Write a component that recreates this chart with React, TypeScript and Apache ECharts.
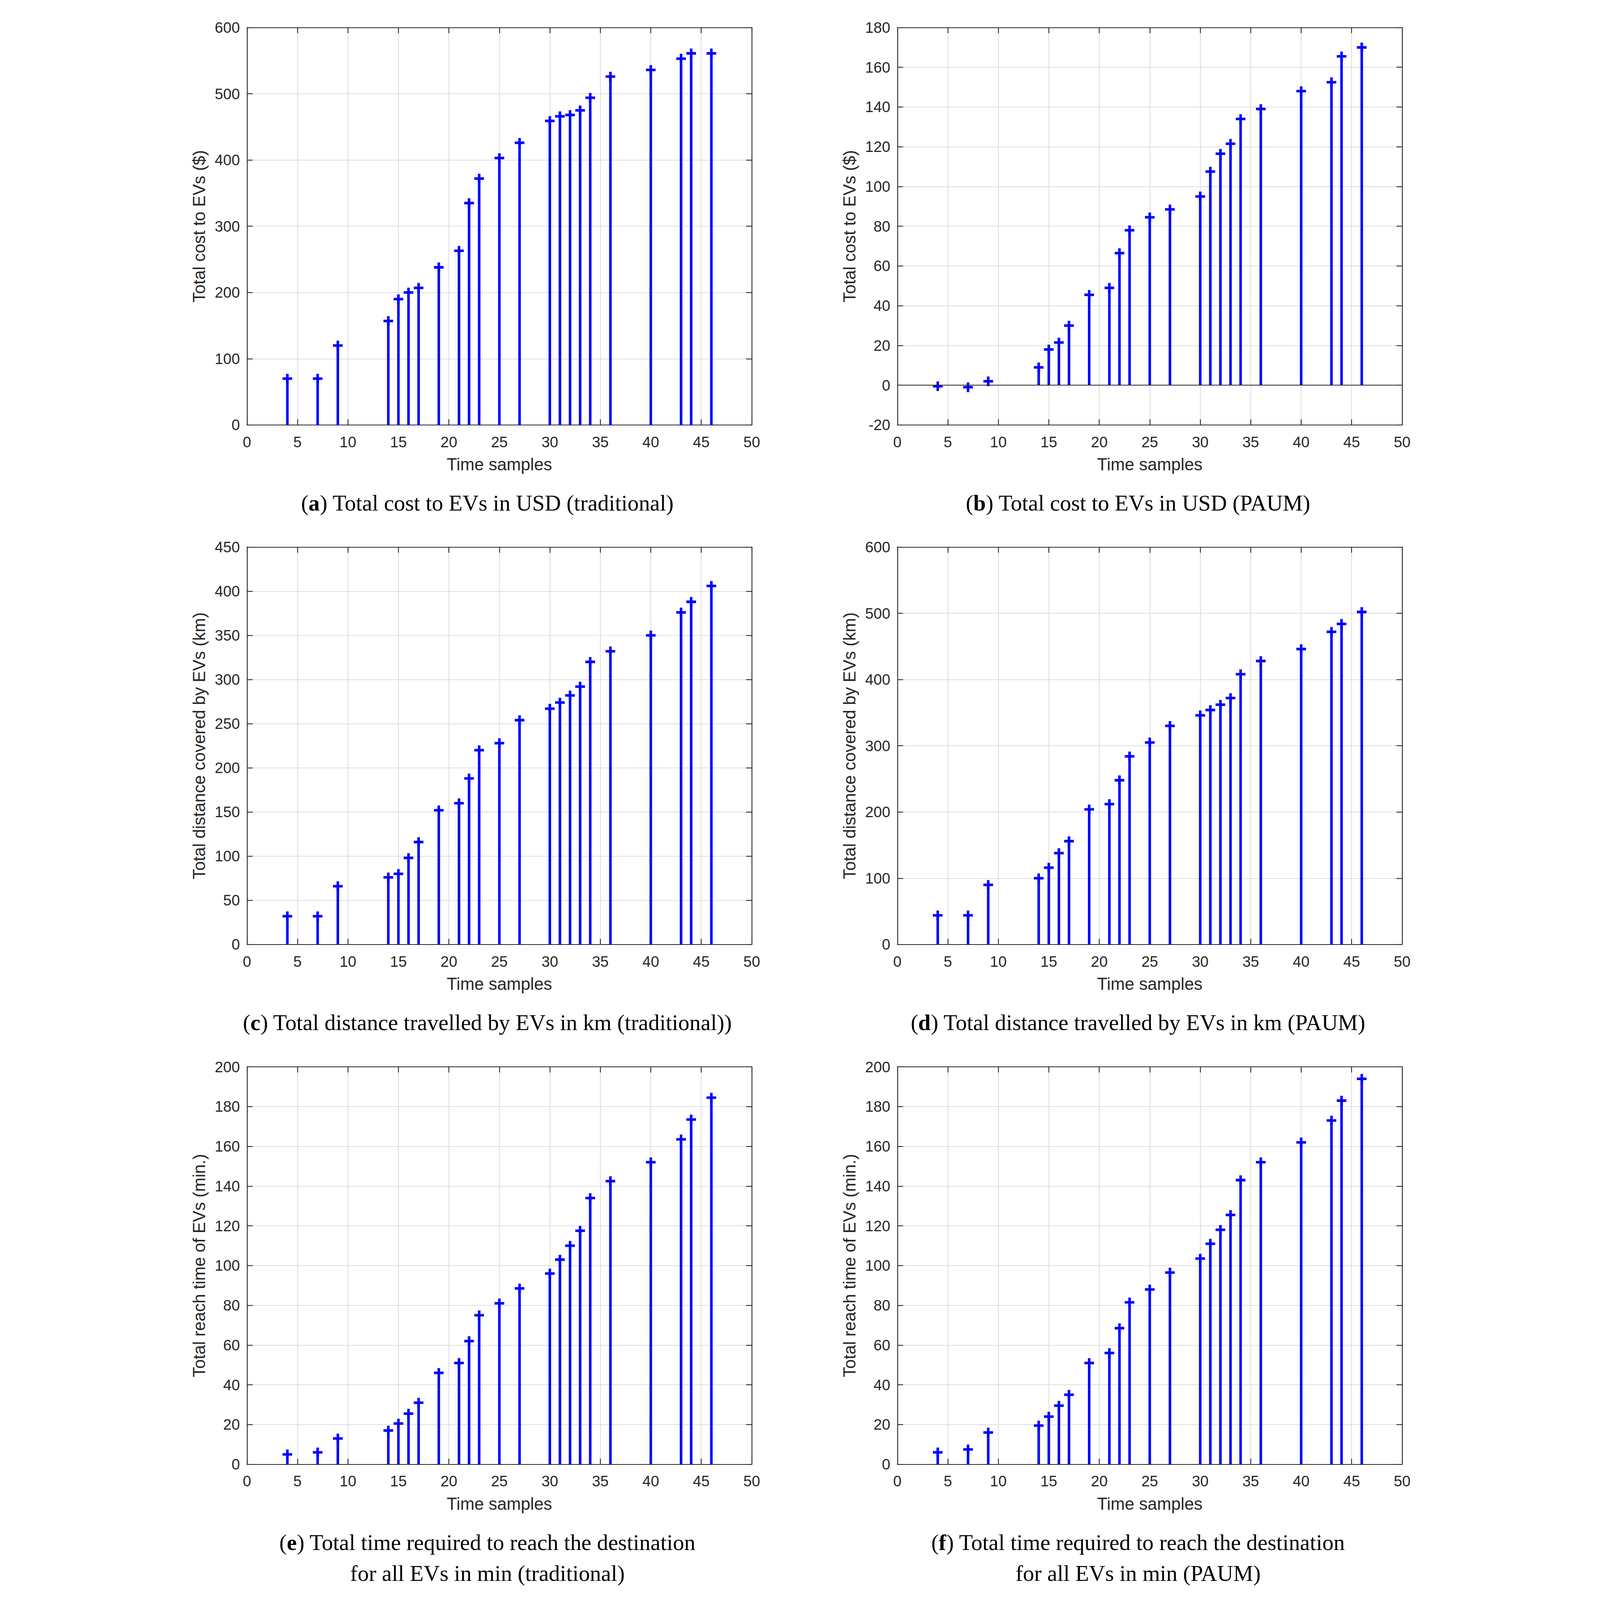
import React, { useEffect, useRef } from 'react';
import * as echarts from 'echarts';

// ---- data ----
const samples = [4, 7, 9, 14, 15, 16, 17, 19, 21, 22, 23, 25, 27, 30, 31, 32, 33, 34, 36, 40, 43, 44, 46];
const costTraditional = [70, 70, 120, 157, 190, 200, 207, 238, 263, 335, 372, 403, 426, 459, 466, 468, 475, 494, 526, 536, 553, 561, 561];
const costPaum = [-0.5, -1, 2, 9, 18, 21.5, 30, 45.5, 49, 66.5, 78, 84.5, 88.5, 95, 107.5, 116.5, 121.5, 134, 139, 148, 152.5, 165.5, 170];
const distTraditional = [32, 32, 66, 76, 80, 98, 116, 152, 160, 188, 220, 228, 254, 267, 274, 282, 292, 320, 332, 350, 376, 388, 406];
const distPaum = [44, 44, 90, 100, 116, 138, 156, 204, 212, 248, 284, 305, 330, 346, 354, 362, 372, 408, 428, 446, 472, 484, 502];
const timeTraditional = [5, 6, 13, 17, 20.5, 25.5, 31, 46, 51, 62, 75, 81, 88.5, 96, 103, 110, 117.5, 134, 142.5, 152, 163.5, 173.5, 184.5];
const timePaum = [6, 7.5, 16, 19.5, 24, 29.5, 35, 51, 56, 68.5, 81.5, 88, 96.5, 103.5, 111, 118, 125.5, 143, 152, 162, 173, 183, 194];

const xTicks = { min: 0, max: 50, step: 5 };
const xTitle = 'Time samples';
const yTitles = [
  'Total cost to EVs ($)',
  'Total cost to EVs ($)',
  'Total distance covered by EVs (km)',
  'Total distance covered by EVs (km)',
  'Total reach time of EVs (min.)',
  'Total reach time of EVs (min.)',
];
const yRanges = [
  [0, 600, 100],
  [-20, 180, 20],
  [0, 450, 50],
  [0, 600, 100],
  [0, 200, 20],
  [0, 200, 20],
];
const captionLetters = ['a', 'b', 'c', 'd', 'e', 'f'];
const captionLine1 = [
  ' Total cost to EVs in USD (traditional)',
  ' Total cost to EVs in USD (PAUM)',
  ' Total distance travelled by EVs in km (traditional))',
  ' Total distance travelled by EVs in km (PAUM)',
  ' Total time required to reach the destination',
  ' Total time required to reach the destination',
];
const captionLine2 = ['', '', '', '', 'for all EVs in min (traditional)', 'for all EVs in min (PAUM)'];
const seriesValues = [costTraditional, costPaum, distTraditional, distPaum, timeTraditional, timePaum];

// ---- styling / layout (in reference pixels, scaled to the window) ----
const REF_W = 4396;
const REF_H = 5636;
const AX = '#262626';
const GRIDC = '#dfdfdf';
const BLUE = '#0000ff';
const SANS = '"Liberation Sans", Arial, Helvetica, sans-serif';
const SERIF = '"Liberation Serif", "Times New Roman", serif';
const PLUS = 'path://M12.5,0H21.5V12.5H34V21.5H21.5V34H12.5V21.5H0V12.5H12.5Z';

const colLeft = [250, 2541];
const rowTop = [97, 1927, 3758];
const plotW = 1778;
const plotH = 1400;
const capCenterX = [1097, 3389];

function buildOption(s: number, ox: number, oy: number) {
  const grid: any[] = [];
  const xAxis: any[] = [];
  const yAxis: any[] = [];
  const series: any[] = [];
  const graphic: any[] = [];
  const lw = 3 * s;

  seriesValues.forEach((vals, i) => {
    const col = i % 2;
    const row = Math.floor(i / 2);
    const left = ox + colLeft[col] * s;
    const top = oy + rowTop[row] * s;
    grid.push({ left, top, width: plotW * s, height: plotH * s, containLabel: false });
    const [ymin, ymax, ystep] = yRanges[i];

    const line = { lineStyle: { color: AX, width: lw } };
    xAxis.push({
      type: 'value', gridIndex: i, position: 'bottom',
      min: xTicks.min, max: xTicks.max, interval: xTicks.step,
      name: xTitle, nameLocation: 'middle', nameGap: 109 * s,
      nameTextStyle: { fontFamily: SANS, fontSize: 60 * s, color: AX, lineHeight: 60 * s },
      axisLine: { show: true, onZero: false, ...line },
      axisTick: { show: true, inside: true, length: 20 * s, ...line },
      axisLabel: { show: true, margin: 33 * s, fontFamily: SANS, fontSize: 53 * s, color: AX, lineHeight: 53 * s },
      splitLine: { show: true, lineStyle: { color: GRIDC, width: lw } },
    });
    xAxis.push({
      type: 'value', gridIndex: i, position: 'top',
      min: xTicks.min, max: xTicks.max, interval: xTicks.step,
      axisLine: { show: true, onZero: false, ...line },
      axisTick: { show: true, inside: true, length: 20 * s, ...line },
      axisLabel: { show: false },
      splitLine: { show: false },
    });
    yAxis.push({
      type: 'value', gridIndex: i, position: 'left',
      min: ymin, max: ymax, interval: ystep,
      name: yTitles[i], nameLocation: 'middle', nameGap: 138 * s,
      nameTextStyle: { fontFamily: SANS, fontSize: 60 * s, color: AX, lineHeight: 60 * s },
      axisLine: { show: true, onZero: false, ...line },
      axisTick: { show: true, inside: true, length: 20 * s, ...line },
      axisLabel: { show: true, margin: 25 * s, fontFamily: SANS, fontSize: 53 * s, color: AX },
      splitLine: { show: true, lineStyle: { color: GRIDC, width: lw } },
    });
    yAxis.push({
      type: 'value', gridIndex: i, position: 'right',
      min: ymin, max: ymax, interval: ystep,
      axisLine: { show: true, onZero: false, ...line },
      axisTick: { show: true, inside: true, length: 20 * s, ...line },
      axisLabel: { show: false },
      splitLine: { show: false },
    });

    const pts = samples.map((x, k) => [x, vals[k]]);
    const bar: any = {
      type: 'bar', xAxisIndex: 2 * i, yAxisIndex: 2 * i,
      data: pts, barWidth: 9 * s, silent: true,
      itemStyle: { color: BLUE },
      z: 3,
    };
    if (ymin < 0) {
      bar.markLine = {
        silent: true, symbol: ['none', 'none'],
        label: { show: false },
        lineStyle: { color: AX, width: lw, type: 'solid' },
        data: [{ yAxis: 0 }],
      };
    }
    series.push(bar);
    series.push({
      type: 'scatter', xAxisIndex: 2 * i, yAxisIndex: 2 * i,
      data: pts, symbol: PLUS, symbolSize: 34 * s, silent: true,
      itemStyle: { color: BLUE, opacity: 1 },
      z: 4,
    });

    const capX = ox + capCenterX[col] * s;
    const capY = top + (plotH + 275) * s;
    const fs = 79 * s;
    graphic.push({
      type: 'text', x: capX, y: capY,
      style: {
        text: '({b|' + captionLetters[i] + '})' + captionLine1[i],
        fontFamily: SERIF, fontSize: fs, fill: '#000',
        align: 'center', verticalAlign: 'middle',
        rich: { b: { fontFamily: SERIF, fontSize: fs, fontWeight: 'bold', fill: '#000' } },
      },
    });
    if (captionLine2[i]) {
      graphic.push({
        type: 'text', x: capX, y: capY + 109 * s,
        style: {
          text: captionLine2[i], fontFamily: SERIF, fontSize: fs, fill: '#000',
          align: 'center', verticalAlign: 'middle',
        },
      });
    }
  });

  return {
    animation: false,
    backgroundColor: '#ffffff',
    grid, xAxis, yAxis, series, graphic,
  };
}

function viewSize() {
  const w = Math.min(window.innerWidth || REF_W, REF_W) || REF_W;
  const h = Math.min(window.innerHeight || REF_H, REF_H) || REF_H;
  return { w, h };
}

export default function App() {
  const ref = useRef<HTMLDivElement>(null);
  const { w, h } = viewSize();
  useEffect(() => {
    if (!ref.current) return;
    const s = Math.min(w / REF_W, h / REF_H);
    const ox = (w - REF_W * s) / 2;
    const oy = (h - REF_H * s) / 2;
    const chart = echarts.init(ref.current, null, { renderer: 'svg' });
    chart.setOption(buildOption(s, ox, oy));
    return () => chart.dispose();
  }, [w, h]);
  return (
    <div
      ref={ref}
      style={{ position: 'absolute', left: 0, top: 0, width: w, height: h, background: '#fff' }}
    />
  );
}
